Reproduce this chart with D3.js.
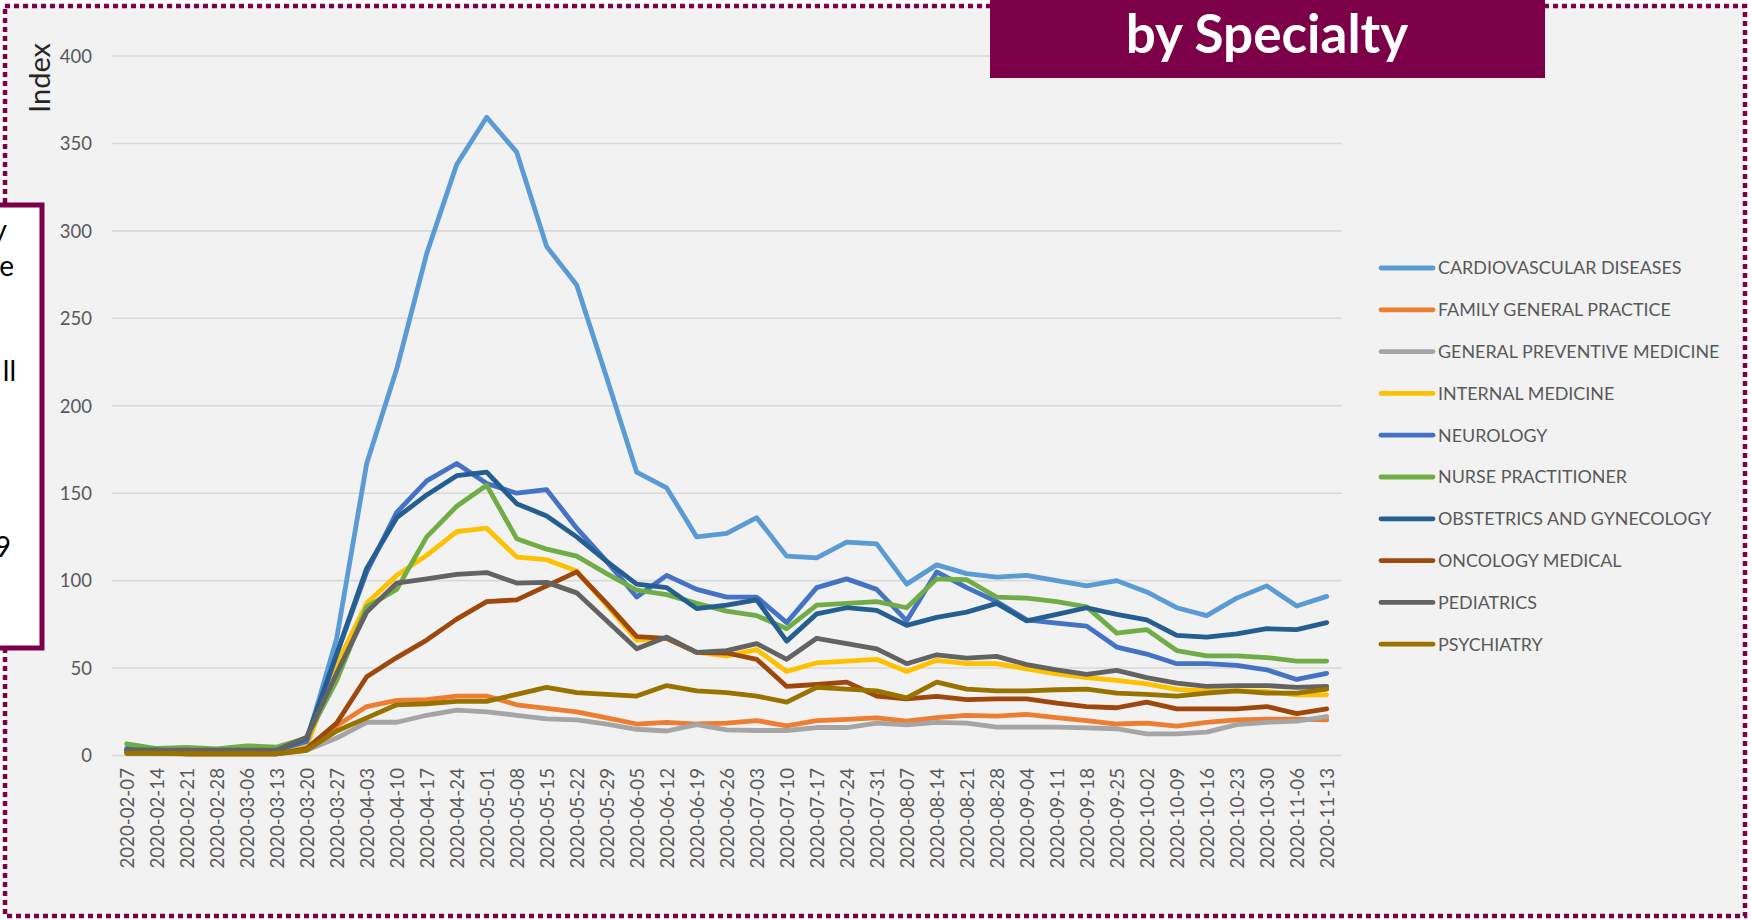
<!DOCTYPE html>
<html>
<head>
<meta charset="utf-8">
<script src="https://cdn.jsdelivr.net/npm/d3@7"></script>
<style>
  html, body { margin: 0; padding: 0; background: #ffffff; }
  svg { display: block; }
</style>
</head>
<body>
<svg id="chart" width="1751" height="920"></svg>
<script>
// ---------- DATA ----------
const dates = ["2020-02-07","2020-02-14","2020-02-21","2020-02-28","2020-03-06","2020-03-13","2020-03-20","2020-03-27",
  "2020-04-03","2020-04-10","2020-04-17","2020-04-24","2020-05-01","2020-05-08","2020-05-15","2020-05-22","2020-05-29",
  "2020-06-05","2020-06-12","2020-06-19","2020-06-26","2020-07-03","2020-07-10","2020-07-17","2020-07-24","2020-07-31",
  "2020-08-07","2020-08-14","2020-08-21","2020-08-28","2020-09-04","2020-09-11","2020-09-18","2020-09-25","2020-10-02",
  "2020-10-09","2020-10-16","2020-10-23","2020-10-30","2020-11-06","2020-11-13"];

const yTicks = [0, 50, 100, 150, 200, 250, 300, 350, 400];

const seriesNames = ["CARDIOVASCULAR DISEASES","FAMILY GENERAL PRACTICE","GENERAL PREVENTIVE MEDICINE","INTERNAL MEDICINE",
  "NEUROLOGY","NURSE PRACTITIONER","OBSTETRICS AND GYNECOLOGY","ONCOLOGY MEDICAL","PEDIATRICS","PSYCHIATRY"];

const cardiovascular = [3,3,2,2,2,3,8,67,167,221,287,338,365,345,291,269,216,162,153,125,127,136,114,113,122,121,98,109,104,102,103,100,97,100,93.5,84.5,80,90,97,85.5,91];
const familyGeneral = [2,2,1,1,1,1,4,17,28,31.5,32,34,34,29,27,25,21.5,18,19,18,18.5,20,17,20,20.6,21.5,19.6,21.6,23,22.5,23.5,21.6,20,18,18.5,16.8,19,20.4,20.8,20.8,20.4];
const generalPreventive = [1,1,1,1,1,1,3,10,19,19,23,26,25,23,21,20.4,18,15,14,17.7,14.7,14.3,14.3,16,16,18.5,17.5,19,18.5,16.2,16.2,16.2,15.8,15.3,12.4,12.4,13.4,17.7,19,19.7,22.3];
const internalMedicine = [2,2,2,2,2,2,5,52,87,103,114.5,128,130,113.5,112,105.5,86,66,67,59,57,60.5,48,53,54,55,48,54.4,52.5,52.5,49.6,46.7,44.5,43,41,37.8,37,37,36.6,34.7,34.7];
const neurology = [4,3,3,3,3,3,8,58,105,139,157,167,155.5,150,152,130,111,90.6,103,95,90.6,90.6,76,96,101,95,77,105,96,88,77.6,75.7,74,62,58,52.5,52.5,51.5,49,43.5,47];
const nursePractitioner = [6.7,4,4.6,3.8,5.5,4.8,10,43,85,95,125,142.5,154.5,124,118,114,104,94.5,92,87,82.6,80,72.5,86,87,88,84.5,101,100.5,90.6,90,88,85,70,72,60,57,57,56,54,54];
const obstetrics = [3,3,2,2,2,3,10,58,107,136,149,160,162,144,137,125,111,98,96,84,86,89,65.4,81,84.5,83,74.4,79,82,87,77,80.7,84.5,80.7,77.6,68.7,67.7,69.6,72.5,72,76];
const oncology = [2,2,1,1,1,1,4,18.5,45,56,66,78,88,89,97,105,87,68,67,59,58.6,55,39.5,40.6,42,34,32.4,33.8,32,32.4,32.4,30,28,27.3,30.5,26.7,26.7,26.7,28,23.9,26.7];
const pediatrics = [3,3,3,3,3,3,10.5,47,82,98.6,101,103.6,104.6,98.6,99,93,77,61,67.7,59,60,64,55,67,64,61,52.5,57.6,55.7,56.7,52,49,46.4,48.7,44.5,41.4,39.5,40,40,39,39.5];
const psychiatry = [1.3,1.3,1,1,1,1,3,14,21.5,29,29.6,31,31,35,39,36,35,34,40,37,36,34,30.5,39,38,37,33,42,38,37,37,37.6,38,35.7,35,34,35.7,37,35.7,35.7,38];

const seriesValues = [cardiovascular, familyGeneral, generalPreventive, internalMedicine, neurology,
  nursePractitioner, obstetrics, oncology, pediatrics, psychiatry];
const seriesColors = ["#5B9BD5","#ED7D31","#A5A5A5","#FFC000","#4472C4","#70AD47","#255E91","#9E480E","#636363","#997300"];

// ---------- LAYOUT ----------
const svg = d3.select("#chart");
const W = 1751, H = 920;
const maroon = "#7B0048";
const fontFam = "Lato, 'Open Sans', sans-serif";

// background
svg.append("rect").attr("x", 0).attr("y", 0).attr("width", W).attr("height", H).attr("fill", "#ffffff");
svg.append("rect").attr("x", 5).attr("y", 6).attr("width", 1740).attr("height", 910).attr("fill", "#F2F2F2");

// scales
const x = d3.scalePoint().domain(dates).range([111.7, 1341.7]).padding(0.5);
const y = d3.scaleLinear().domain([0, 400]).range([755.5, 56]);

// gridlines
const grid = svg.append("g");
grid.selectAll("line").data(yTicks).join("line")
  .attr("x1", 111.7).attr("x2", 1341.7)
  .attr("y1", d => y(d)).attr("y2", d => y(d))
  .attr("stroke", "#D9D9D9").attr("stroke-width", 1.6);

// y axis
const yAxis = svg.append("g").attr("transform", "translate(92,0)")
  .call(d3.axisLeft(y).tickValues(yTicks).tickSize(0).tickPadding(0));
yAxis.select(".domain").remove();
yAxis.selectAll("text").attr("fill", "#595959").attr("font-size", 18.5)
  .attr("font-family", fontFam).attr("dy", "0.34em");

// x axis
const xAxis = svg.append("g").attr("transform", "translate(0,768)")
  .call(d3.axisBottom(x).tickSize(0).tickPadding(0));
xAxis.select(".domain").remove();
xAxis.selectAll("text")
  .attr("fill", "#595959").attr("font-size", 18.7).attr("font-family", fontFam)
  .attr("transform", "rotate(-90)")
  .attr("text-anchor", "end")
  .attr("x", 0).attr("y", 0).attr("dy", "0.35em");

// y title
svg.append("text")
  .attr("transform", "translate(50,78) rotate(-90)")
  .attr("text-anchor", "middle")
  .attr("fill", "#262626").attr("font-size", 29).attr("font-family", fontFam)
  .text("Index");

// lines
const line = d3.line().x((d, i) => x(dates[i])).y(d => y(d));
svg.append("g").selectAll("path").data(seriesValues).join("path")
  .attr("d", d => line(d))
  .attr("fill", "none")
  .attr("stroke", (d, i) => seriesColors[i])
  .attr("stroke-width", 4.8)
  .attr("stroke-linejoin", "round")
  .attr("stroke-linecap", "round");

// legend
const leg = svg.append("g");
seriesNames.forEach((name, i) => {
  const ly = 268 + i * 41.8;
  leg.append("line").attr("x1", 1381).attr("x2", 1433).attr("y1", ly).attr("y2", ly)
    .attr("stroke", seriesColors[i]).attr("stroke-width", 4.8).attr("stroke-linecap", "round");
  leg.append("text").attr("x", 1438).attr("y", ly).attr("dy", "0.36em")
    .attr("fill", "#595959").attr("font-size", 17.9).attr("font-family", fontFam)
    .text(name);
});

// dotted frame
svg.append("rect").attr("x", 5).attr("y", 6).attr("width", 1740).attr("height", 910)
  .attr("fill", "none").attr("stroke", maroon).attr("stroke-width", 4.5)
  .attr("stroke-dasharray", "5,4");

// title box
svg.append("rect").attr("x", 990).attr("y", 0).attr("width", 555).attr("height", 78).attr("fill", maroon);
svg.append("text").attr("x", 1267).attr("y", 53).attr("text-anchor", "middle")
  .attr("fill", "#ffffff").attr("font-size", 53).attr("font-weight", "bold").attr("font-family", fontFam)
  .text("by Specialty");

// left note box (cut off at the left edge, as in the source)
svg.append("rect").attr("x", -20).attr("y", 205).attr("width", 62).attr("height", 443)
  .attr("fill", "#ffffff").attr("stroke", maroon).attr("stroke-width", 5);
const frags = [["y", 7, 240], ["e", 14, 276], ["ll", 16, 381], ["9", 11, 557]];
svg.append("g").selectAll("text").data(frags).join("text")
  .attr("x", d => d[1]).attr("y", d => d[2]).attr("text-anchor", "end")
  .attr("fill", "#000000").attr("font-size", 28).attr("font-family", fontFam)
  .text(d => d[0]);
</script>
</body>
</html>
